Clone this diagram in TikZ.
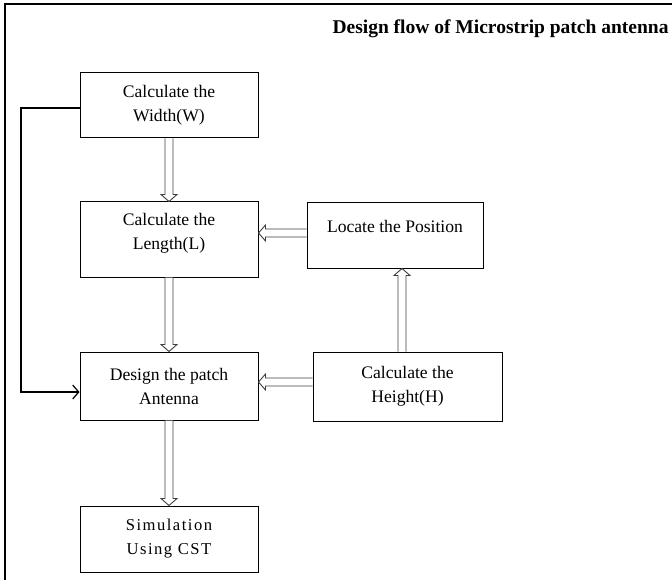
\documentclass[tikz,border=0pt]{standalone}
\usepackage{fontspec}
\setmainfont{Liberation Serif}
\newfontfamily\simfont[LetterSpace=9]{Liberation Serif}
\usetikzlibrary{arrows.meta,calc}
\tikzset{
  box/.style={draw=black, line width=1pt, minimum width=178pt, align=center,
    font=\fontsize{17.6}{24}\selectfont, inner sep=0pt},
  blk/.style={draw=black!75, line width=0.9pt, fill=white, line join=miter,
    to path={
      ($(\tikztotarget)!7pt!(\tikztostart)$) coordinate (hb)
      ($(\tikztostart)!4pt!90:(\tikztotarget)$) --
      ($(hb)!4pt!-90:(\tikztostart)$) --
      ($(hb)!8pt!-90:(\tikztostart)$) -- (\tikztotarget) --
      ($(hb)!8pt!90:(\tikztostart)$) --
      ($(hb)!4pt!90:(\tikztostart)$) --
      ($(\tikztostart)!4pt!-90:(\tikztotarget)$)
    }},
  fb/.style={draw=black, line width=1.2pt, -{Straight Barb[length=6pt,width=14pt,line width=1.2pt]}}
}
\begin{document}
\begin{tikzpicture}[x=1pt,y=-1pt]
\useasboundingbox (0,0) rectangle (672,580);
\draw[line width=2pt] (5,580) -- (5,4) -- (672,4);
\node[font=\bfseries\fontsize{19.5}{22}\selectfont, anchor=west] (title) at (329,29) {Design flow of Microstrip patch antenna};
\node[box, minimum height=65pt] (W) at (169,105.5) {Calculate the\\Width(W)};
\node[box, minimum height=75pt, text depth=16pt] (L) at (169,239.5) {Calculate the\\Length(L)};
\node[box, minimum width=176pt, minimum height=65pt, text depth=18pt] (P) at (395,235.5) {Locate the Position};
\node[box, minimum height=68pt] (D) at (169,386) {Design the patch\\Antenna};
\node[box, minimum width=189pt, minimum height=69pt] (H) at (407.5,386.5) {Calculate the\\Height(H)};
\node[box, minimum height=66pt, font=\simfont\fontsize{16.6}{24}\selectfont] (S) at (169,539) {Simulation\\Using CST};
\coordinate (pa) at (P.west |- 0,233);
\coordinate (la) at (L.east |- 0,233);
\coordinate (ha) at (H.west |- 0,382);
\coordinate (da) at (D.east |- 0,382);
\coordinate (hn) at (H.north -| 402,0);
\coordinate (ps) at (P.south -| 402,0);
\coordinate (ws) at (W.south);
\coordinate (ln) at (L.north);
\coordinate (ls) at (L.south);
\coordinate (dn) at (D.north);
\coordinate (ds) at (D.south);
\coordinate (sn) at (S.north);
\draw[blk] (ws) to (ln);
\draw[blk] (ls) to (dn);
\draw[blk] (ds) to (sn);
\draw[blk] (pa) to (la);
\draw[blk] (ha) to (da);
\draw[blk] (hn) to (ps);
\coordinate (c1) at (21,108);
\coordinate (c2) at (21,392);
\draw[fb] (W.west |- c1) -- (c1) -- (c2) -- (D.west |- c2);
\end{tikzpicture}
\end{document}
